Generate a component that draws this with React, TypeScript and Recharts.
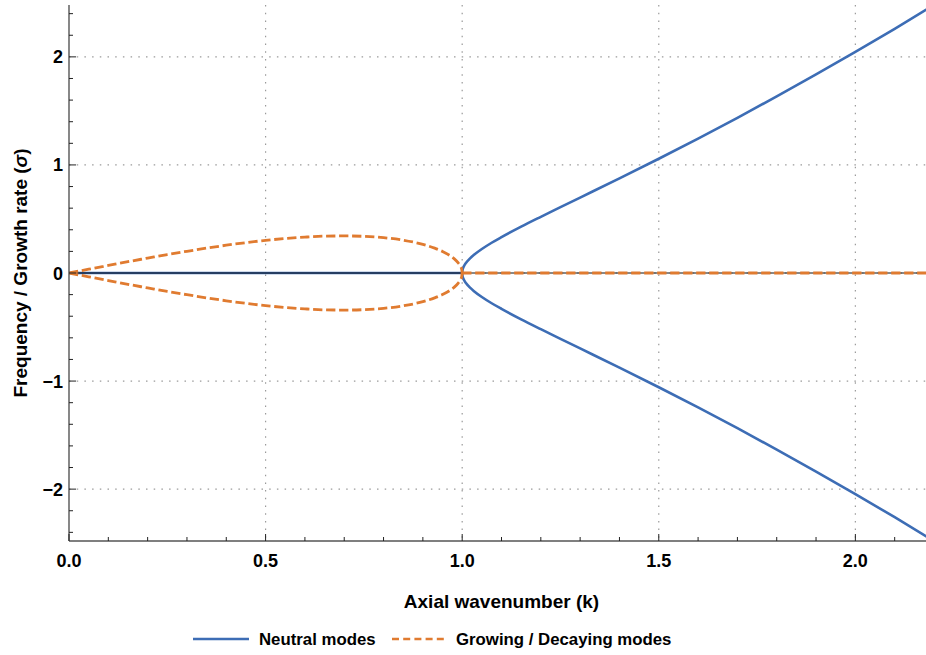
import { LineChart, Line, XAxis, YAxis, CartesianGrid } from "recharts";

const FONT = "'Liberation Sans', Arial, Helvetica, sans-serif";
const BLUE = "#3D6DB5";
const ORANGE = "#E07B30";
const DASH = "9.3 3.7";

// growth rate branch (k < 1)
const kGrowth = [0, 0.05, 0.1, 0.15, 0.2, 0.25, 0.3, 0.35, 0.4, 0.45, 0.5, 0.55, 0.6, 0.65, 0.7, 0.75, 0.8, 0.85, 0.9, 0.93, 0.95, 0.97, 0.98, 0.99, 0.995, 0.999, 1.0];
const sigmaUpper = [0, 0.035, 0.07, 0.105, 0.138, 0.171, 0.201, 0.23, 0.257, 0.281, 0.302, 0.319, 0.332, 0.341, 0.343, 0.339, 0.327, 0.304, 0.265, 0.23, 0.199, 0.158, 0.131, 0.093, 0.066, 0.03, 0];
const sigmaLower = [0, -0.035, -0.07, -0.105, -0.138, -0.171, -0.201, -0.23, -0.257, -0.281, -0.302, -0.319, -0.332, -0.341, -0.343, -0.339, -0.327, -0.304, -0.265, -0.23, -0.199, -0.158, -0.131, -0.093, -0.066, -0.03, 0];

// oscillating branch (k > 1)
const kNeutral = [1.0, 1.001, 1.005, 1.01, 1.02, 1.03, 1.05, 1.075, 1.1, 1.15, 1.2, 1.25, 1.3, 1.4, 1.5, 1.6, 1.7, 1.8, 1.9, 2.0, 2.1, 2.2];
const omegaUpper = [0, 0.03, 0.067, 0.095, 0.136, 0.168, 0.222, 0.28, 0.332, 0.429, 0.52, 0.609, 0.698, 0.876, 1.057, 1.244, 1.436, 1.634, 1.837, 2.046, 2.26, 2.48];
const omegaLower = [0, -0.03, -0.067, -0.095, -0.136, -0.168, -0.222, -0.28, -0.332, -0.429, -0.52, -0.609, -0.698, -0.876, -1.057, -1.244, -1.436, -1.634, -1.837, -2.046, -2.26, -2.48];

// zero branches
const kNeutralZero = [0, 1];
const neutralZero = [0, 0];
const kGrowthZero = [1, 2.2];
const growthZero = [0, 0];
const kAxisZero = [0, 2.2];
const axisZero = [0, 0];

const xTicks = [0, 0.1, 0.2, 0.3, 0.4, 0.5, 0.6, 0.7, 0.8, 0.9, 1.0, 1.1, 1.2, 1.3, 1.4, 1.5, 1.6, 1.7, 1.8, 1.9, 2.0, 2.1, 2.2];
const xMajor = [0, 0.5, 1, 1.5, 2];
const xMajorLabels = ["0.0", "0.5", "1.0", "1.5", "2.0"];
const yTicks = [-2.4, -2.2, -2, -1.8, -1.6, -1.4, -1.2, -1, -0.8, -0.6, -0.4, -0.2, 0, 0.2, 0.4, 0.6, 0.8, 1, 1.2, 1.4, 1.6, 1.8, 2, 2.2, 2.4];
const yMajor = [-2, -1, 0, 1, 2];
const yMajorLabels = ["\u22122", "\u22121", "0", "1", "2"];
const xGrid = [0.5, 1, 1.5, 2];
const yGrid = [-2, -1, 0, 1, 2];

const pairs = (ks: number[], vs: number[]) => ks.map((k, i) => ({ k, v: vs[i] }));

const majorIndex = (list: number[], v: number) => list.findIndex((m) => Math.abs(m - v) < 1e-6);

function BottomTick({ x, y, payload }: any) {
  const idx = majorIndex(xMajor, payload.value);
  const major = idx >= 0;
  return (
    <g>
      <line x1={x} y1={y} x2={x} y2={y - (major ? 7 : 4)} stroke="#222" strokeWidth={1} />
      {major && (
        <text x={x} y={y + 26} textAnchor="middle" fontSize={18} fontWeight="bold" fontFamily={FONT} fill="#000">
          {xMajorLabels[idx]}
        </text>
      )}
    </g>
  );
}

function TopTick({ x, y, payload }: any) {
  const major = majorIndex(xMajor, payload.value) >= 0;
  return <line x1={x} y1={y} x2={x} y2={y + (major ? 7 : 4)} stroke="#222" strokeWidth={1} />;
}

function LeftTick({ x, y, payload }: any) {
  const idx = majorIndex(yMajor, payload.value);
  const major = idx >= 0;
  return (
    <g>
      <line x1={x} y1={y} x2={x + (major ? 7 : 4)} y2={y} stroke="#222" strokeWidth={1} />
      {major && (
        <text x={x - 6} y={y + 6.5} textAnchor="end" fontSize={18} fontWeight="bold" fontFamily={FONT} fill="#000">
          {yMajorLabels[idx]}
        </text>
      )}
    </g>
  );
}

function XTitle({ viewBox }: any) {
  const x = viewBox?.x ?? 69;
  const y = viewBox?.y ?? 541;
  const w = viewBox?.width ?? 865;
  return (
    <text x={x + w / 2} y={y + 67} textAnchor="middle" fontSize={19} fontWeight="bold" fontFamily={FONT} fill="#000">
      Axial wavenumber (k)
    </text>
  );
}

function YTitle({ viewBox }: any) {
  const y = viewBox?.y ?? 5;
  const h = viewBox?.height ?? 536;
  const cy = y + h / 2;
  return (
    <text
      x={27}
      y={cy}
      transform={`rotate(-90 27 ${cy})`}
      textAnchor="middle"
      fontSize={19}
      fontWeight="bold"
      fontFamily={FONT}
      fill="#000"
    >
      Frequency / Growth rate (<tspan fontStyle="italic">σ</tspan>)
    </text>
  );
}

export default function App() {
  return (
    <div style={{ position: "absolute", left: 0, top: 0, width: 926, height: 655, overflow: "hidden", background: "#fff" }}>
      <LineChart width={934} height={655} margin={{ top: 5, right: 0, bottom: 0, left: 0 }}>
        <CartesianGrid
          horizontalValues={yGrid}
          verticalValues={xGrid}
          stroke="#9a9a9a"
          strokeWidth={1.2}
          strokeDasharray="1.5 6.2"
        />
        <XAxis
          dataKey="k"
          type="number"
          domain={[0, 2.2]}
          allowDataOverflow
          ticks={xTicks}
          interval={0}
          tickSize={0}
          tickMargin={0}
          tickLine={false}
          tick={<BottomTick />}
          height={114}
          axisLine={{ stroke: "#555", strokeWidth: 1.4 }}
          label={<XTitle />}
        />
        <XAxis
          xAxisId="top"
          orientation="top"
          dataKey="k"
          type="number"
          domain={[0, 2.2]}
          allowDataOverflow
          ticks={xTicks}
          interval={0}
          tickSize={0}
          tickMargin={0}
          tickLine={false}
          tick={<TopTick />}
          height={0}
          axisLine={{ stroke: "#555", strokeWidth: 1.4 }}
        />
        <YAxis
          type="number"
          domain={[-2.48, 2.48]}
          allowDataOverflow
          ticks={yTicks}
          interval={0}
          tickSize={0}
          tickMargin={0}
          tickLine={false}
          tick={<LeftTick />}
          width={69}
          axisLine={{ stroke: "#555", strokeWidth: 1.4 }}
          label={<YTitle />}
        />
        <Line data={pairs(kNeutralZero, neutralZero)} dataKey="v" type="linear" stroke={BLUE} strokeWidth={2.6} dot={false} activeDot={false} isAnimationActive={false} />
        <Line data={pairs(kNeutral, omegaUpper)} dataKey="v" type="monotone" stroke={BLUE} strokeWidth={2.6} dot={false} activeDot={false} isAnimationActive={false} />
        <Line data={pairs(kNeutral, omegaLower)} dataKey="v" type="monotone" stroke={BLUE} strokeWidth={2.6} dot={false} activeDot={false} isAnimationActive={false} />
        <Line data={pairs(kAxisZero, axisZero)} dataKey="v" type="linear" stroke="#111" strokeWidth={1} dot={false} activeDot={false} isAnimationActive={false} />
        <Line data={pairs(kGrowth, sigmaUpper)} dataKey="v" type="monotone" stroke={ORANGE} strokeWidth={2.8} strokeDasharray={DASH} dot={false} activeDot={false} isAnimationActive={false} />
        <Line data={pairs(kGrowth, sigmaLower)} dataKey="v" type="monotone" stroke={ORANGE} strokeWidth={2.8} strokeDasharray={DASH} dot={false} activeDot={false} isAnimationActive={false} />
        <Line data={pairs(kGrowthZero, growthZero)} dataKey="v" type="linear" stroke={ORANGE} strokeWidth={2.8} strokeDasharray={DASH} dot={false} activeDot={false} isAnimationActive={false} />
      </LineChart>
      <svg width={926} height={55} style={{ position: "absolute", left: 0, top: 600 }}>
        <line x1={193} y1={39} x2={249} y2={39} stroke={BLUE} strokeWidth={2.6} />
        <text x={259} y={45} fontSize={16.8} fontWeight="bold" fontFamily={FONT} fill="#000">
          Neutral modes
        </text>
        <line x1={392} y1={39} x2={444} y2={39} stroke={ORANGE} strokeWidth={2.6} strokeDasharray="7 4.2" />
        <text x={456} y={45} fontSize={16.8} fontWeight="bold" fontFamily={FONT} fill="#000">
          Growing / Decaying modes
        </text>
      </svg>
    </div>
  );
}
